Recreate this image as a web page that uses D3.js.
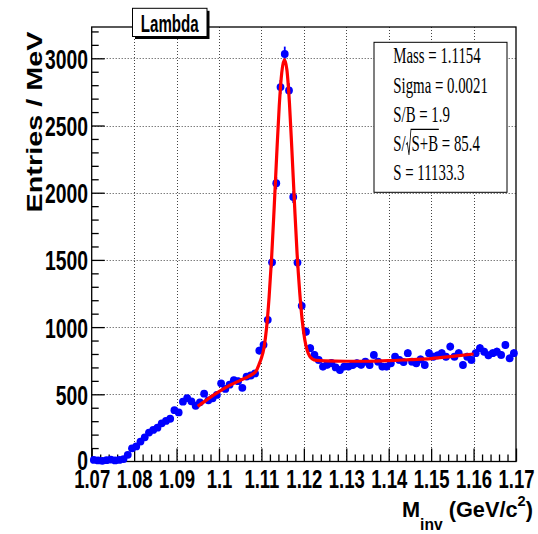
<!DOCTYPE html>
<html>
<head>
<meta charset="utf-8">
<script src="https://cdn.jsdelivr.net/npm/d3@7"></script>
<style>
  html, body { margin: 0; padding: 0; background: #fff; }
  svg { display: block; }
</style>
</head>
<body>
<svg id="chart" width="538" height="534"></svg>
<script>
// Invariant-mass histogram: 100 bins of 1 MeV between 1.07 and 1.17 GeV/c^2
const histMin = 1.07;
const histMax = 1.17;
const entries = [
  12, 8, 5, 10, 14, 8, 12, 18, 50, 98,
  112, 148, 180, 215, 235, 252, 284, 302, 318, 382,
  365, 445, 472, 448, 415, 440, 505, 455, 470, 495,
  582, 540, 572, 605, 598, 548, 632, 640, 655, 825,
  868, 1054, 1482, 2071, 2786, 3032, 2761, 1968, 1480, 1158,
  966, 843, 793, 756, 706, 720, 733, 700, 681, 706,
  706, 718, 731, 720, 743, 718, 793, 743, 706, 706,
  731, 780, 756, 740, 806, 743, 731, 760, 718, 806,
  780, 790, 806, 780, 855, 780, 806, 718, 780, 756,
  806, 843, 817, 790, 806, 817, 793, 867, 768, 806
];

// Fitted signal + background curve, sampled
const fitMass = [
  1.0950, 1.0975, 1.1000, 1.1025, 1.1050, 1.1070, 1.1080, 1.1088, 1.1094, 1.1100,
  1.1106, 1.1112, 1.1118, 1.1124, 1.1130, 1.1136, 1.1142, 1.1148, 1.1154, 1.1160,
  1.1166, 1.1172, 1.1178, 1.1184, 1.1190, 1.1196, 1.1202, 1.1208, 1.1214, 1.1220,
  1.1230, 1.1250, 1.1300, 1.1350, 1.1400, 1.1450, 1.1500, 1.1550, 1.1600
];
const fitValue = [
  410, 468, 520, 566, 604, 634, 652, 675, 720, 770,
  845, 990, 1220, 1515, 1885, 2280, 2645, 2895, 2990, 2915,
  2670, 2305, 1915, 1550, 1270, 1055, 910, 825, 782, 763,
  752, 748, 746, 746, 750, 758, 766, 782, 800
];

const xTickValues = [1.07, 1.08, 1.09, 1.10, 1.11, 1.12, 1.13, 1.14, 1.15, 1.16, 1.17];
const xTickLabels = ["1.07", "1.08", "1.09", "1.1", "1.11", "1.12", "1.13", "1.14", "1.15", "1.16", "1.17"];
const yTickValues = [0, 500, 1000, 1500, 2000, 2500, 3000];
const yTickLabels = ["0", "500", "1000", "1500", "2000", "2500", "3000"];
const yMax = 3233;

const histTitle = "Lambda";
const yTitle = "Entries / MeV";
const statsLines = ["Mass = 1.1154", "Sigma = 0.0021", "S/B = 1.9", "S/\u221AS+B = 85.4", "S = 11133.3"];

const svg = d3.select("#chart");
const frame = { left: 91.7, right: 516, top: 27, bottom: 461.5 };

const x = d3.scaleLinear().domain([histMin, histMax]).range([frame.left, frame.right]);
const y = d3.scaleLinear().domain([0, yMax]).range([frame.bottom, frame.top]);

const sans = "'Liberation Sans', Arial, Helvetica, sans-serif";
const serif = "'Liberation Serif', 'Times New Roman', serif";

// width of a string in a given font (used to compress labels horizontally)
function naturalWidth(str, size, family, weight) {
  const t = svg.append("text").attr("font-size", size).attr("font-family", family)
    .attr("font-weight", weight).text(str);
  const w = t.node().getComputedTextLength();
  t.remove();
  return w;
}

// ---- grid ----
const grid = svg.append("g").attr("stroke", "#444").attr("stroke-width", 1)
  .attr("stroke-dasharray", "1,2").attr("fill", "none");
grid.selectAll("line.vx").data(xTickValues.slice(1, -1)).join("line")
  .attr("x1", d => Math.round(x(d)) + 0.5).attr("x2", d => Math.round(x(d)) + 0.5)
  .attr("y1", frame.top).attr("y2", frame.bottom);
grid.selectAll("line.hy").data(yTickValues.slice(1)).join("line")
  .attr("x1", frame.left).attr("x2", frame.right)
  .attr("y1", d => Math.round(y(d)) + 0.5).attr("y2", d => Math.round(y(d)) + 0.5);

// ---- frame ----
svg.append("rect")
  .attr("x", frame.left).attr("y", frame.top)
  .attr("width", frame.right - frame.left).attr("height", frame.bottom - frame.top)
  .attr("fill", "none").attr("stroke", "#000").attr("stroke-width", 1.3);

// ---- axes ----
const yLabelScale = 43 / naturalWidth("3000", 28, sans, "bold");
const xLabelScale = 36 / naturalWidth("1.08", 25.5, sans, "bold");

const yMinor = d3.range(0, yMax, 100).filter(v => v % 500 !== 0);
const xMinor = d3.range(0, 51).map(i => histMin + i * 0.002)
  .filter((v, i) => i % 5 !== 0);

const yAxis = svg.append("g").attr("transform", `translate(${frame.left},0)`)
  .call(d3.axisLeft(y).tickValues(yTickValues).tickSizeInner(-13).tickSizeOuter(0)
    .tickPadding(3.7).tickFormat((d, i) => yTickLabels[i]));
yAxis.select(".domain").remove();
yAxis.selectAll(".tick line").attr("stroke", "#000").attr("stroke-width", 1.3);
yAxis.selectAll(".tick text").each(function (d) {
  const t = d3.select(this);
  const tx = +t.attr("x");
  // the zero label sits a little higher so it clears the x labels
  const base = d === 0 ? 8 : 10;
  t.attr("x", 0).attr("dy", null).attr("y", base)
    .attr("transform", `translate(${tx},0) scale(${yLabelScale},1)`)
    .attr("font-size", 28).attr("font-weight", "bold").attr("font-family", sans).attr("fill", "#000");
});
const yAxisMinor = svg.append("g").attr("transform", `translate(${frame.left},0)`)
  .call(d3.axisLeft(y).tickValues(yMinor).tickSizeInner(-7).tickSizeOuter(0).tickFormat(""));
yAxisMinor.select(".domain").remove();
yAxisMinor.selectAll(".tick line").attr("stroke", "#000").attr("stroke-width", 1.3);

const xAxis = svg.append("g").attr("transform", `translate(0,${frame.bottom})`)
  .call(d3.axisBottom(x).tickValues(xTickValues).tickSizeInner(-13).tickSizeOuter(0)
    .tickPadding(8.7).tickFormat((d, i) => xTickLabels[i]));
xAxis.select(".domain").remove();
xAxis.selectAll(".tick line").attr("stroke", "#000").attr("stroke-width", 1.3);
xAxis.selectAll(".tick text").each(function () {
  const t = d3.select(this);
  t.attr("y", 0).attr("dy", null)
    .attr("transform", `translate(0,26.8) scale(${xLabelScale},1)`)
    .attr("font-size", 25.5).attr("font-weight", "bold").attr("font-family", sans).attr("fill", "#000");
});
const xAxisMinor = svg.append("g").attr("transform", `translate(0,${frame.bottom})`)
  .call(d3.axisBottom(x).tickValues(xMinor).tickSizeInner(-7).tickSizeOuter(0).tickFormat(""));
xAxisMinor.select(".domain").remove();
xAxisMinor.selectAll(".tick line").attr("stroke", "#000").attr("stroke-width", 1.3);

// ---- axis titles ----
svg.append("text")
  .attr("transform", "translate(41.5,31.5) scale(0.8,1) rotate(-90)")
  .attr("text-anchor", "end")
  .attr("font-family", sans).attr("font-weight", "bold").attr("font-size", 28.5)
  .attr("textLength", 181).attr("lengthAdjust", "spacingAndGlyphs")
  .text(yTitle);

const xtG = svg.append("g");
const xt = xtG.append("text").attr("font-family", sans).attr("font-weight", "bold")
  .attr("font-size", 22.3).attr("x", 0).attr("y", 0);
xt.append("tspan").text("M");
xt.append("tspan").attr("font-size", 16).attr("dy", 13).text("inv");
xt.append("tspan").attr("dy", -13).text(" (GeV/c");
xt.append("tspan").attr("font-size", 15).attr("dy", -11).text("2");
xt.append("tspan").attr("dy", 11).text(")");
{
  const w = xt.node().getComputedTextLength();
  const s = 131 / w;
  xtG.attr("transform", `translate(402,517.3) scale(${s},1)`);
}

// ---- data points with Poisson error bars ----
const binWidth = (histMax - histMin) / entries.length;
const points = entries.map((v, i) => ({ m: histMin + (i + 0.5) * binWidth, v }));
const pts = svg.append("g");
pts.selectAll("line.err").data(points).join("line")
  .attr("x1", d => x(d.m)).attr("x2", d => x(d.m))
  .attr("y1", d => y(d.v - Math.sqrt(d.v))).attr("y2", d => y(d.v + Math.sqrt(d.v)))
  .attr("stroke", "#0000ff").attr("stroke-width", 1.8);
pts.selectAll("circle").data(points).join("circle")
  .attr("cx", d => x(d.m)).attr("cy", d => y(d.v)).attr("r", 3.9)
  .attr("fill", "#0000ff");

// ---- fit curve ----
const fitLine = d3.line().x(d => x(d[0])).y(d => y(d[1])).curve(d3.curveMonotoneX);
svg.append("path")
  .datum(fitMass.map((m, i) => [m, fitValue[i]]))
  .attr("d", fitLine)
  .attr("fill", "none").attr("stroke", "#ff0000").attr("stroke-width", 3.2)
  .attr("stroke-linejoin", "round");

// ---- fit results box ----
const stats = { x0: 374, y0: 42.3, x1: 507, y1: 192.3 };
svg.append("rect")
  .attr("x", stats.x0).attr("y", stats.y0)
  .attr("width", stats.x1 - stats.x0).attr("height", stats.y1 - stats.y0)
  .attr("fill", "#fff").attr("stroke", "#000").attr("stroke-width", 1);
const statBaselines = [63.3, 92.7, 121.7, 150.7, 180];
const statScale = 0.66;
statsLines.forEach((line, i) => {
  const g = svg.append("g").attr("transform", `translate(393.3,${statBaselines[i]}) scale(${statScale},1)`)
    .attr("font-family", serif).attr("font-size", 22.5).attr("fill", "#000");
  const root = line.indexOf("\u221A");
  if (root < 0) {
    g.append("text").attr("x", 0).attr("y", 0).text(line);
  } else {
    const head = line.slice(0, root);
    const under = "S+B";
    const tail = line.slice(root + 1);
    const t1 = g.append("text").attr("x", 0).attr("y", 0).text(head);
    const w1 = t1.node().getComputedTextLength();
    const rw = 9;
    g.append("text").attr("x", w1 + rw).attr("y", 0).text(tail);
    const wu = naturalWidth(under, 22.5, serif, "normal");
    g.append("path")
      .attr("d", `M${w1 + 0.5},-6 L${w1 + 2.5},-8 L${w1 + 5},4.3 L${w1 + rw - 1},-21.4 L${w1 + rw + wu + 1},-21.4`)
      .attr("fill", "none").attr("stroke", "#000").attr("stroke-width", 1.2);
  }
});

// ---- title box ----
const tb = { x0: 132.5, y0: 8.3, x1: 207, y1: 36.5 };
svg.append("rect")
  .attr("x", tb.x0 + 2.5).attr("y", tb.y0 + 2.5)
  .attr("width", tb.x1 - tb.x0).attr("height", tb.y1 - tb.y0)
  .attr("fill", "#000");
svg.append("rect")
  .attr("x", tb.x0).attr("y", tb.y0)
  .attr("width", tb.x1 - tb.x0).attr("height", tb.y1 - tb.y0)
  .attr("fill", "#fff").attr("stroke", "#000").attr("stroke-width", 1);
{
  const s = 58 / naturalWidth(histTitle, 23, sans, "bold");
  svg.append("text")
    .attr("transform", `translate(${(tb.x0 + tb.x1) / 2},31.5) scale(${s},1)`)
    .attr("text-anchor", "middle")
    .attr("font-family", sans).attr("font-weight", "bold").attr("font-size", 23)
    .text(histTitle);
}
</script>
</body>
</html>
